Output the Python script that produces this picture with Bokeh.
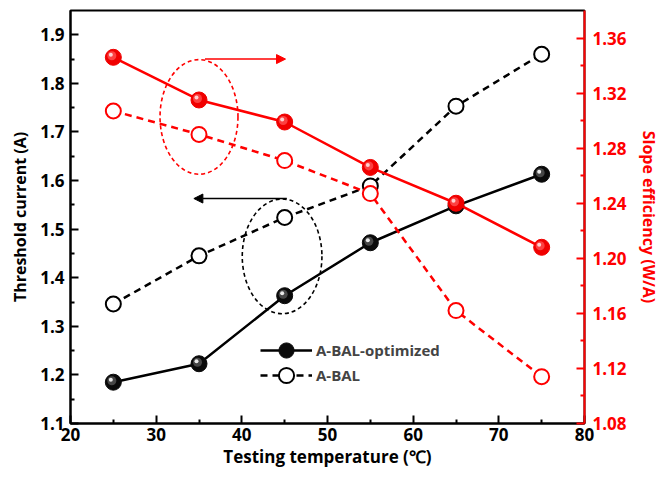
from bokeh.plotting import figure
from bokeh.models import (Range1d, LinearAxis, Arrow, NormalHead, Legend, LegendItem,
                          FixedTicker, NumeralTickFormatter)
from bokeh.embed import file_html
from bokeh.resources import INLINE

# Measured data
temperature = [25, 35, 45, 55, 65, 75]
ith_optimized = [1.185, 1.223, 1.363, 1.472, 1.548, 1.613]
ith_abal = [1.346, 1.445, 1.524, 1.589, 1.753, 1.860]
se_optimized = [1.346, 1.315, 1.299, 1.266, 1.240, 1.208]
se_abal = [1.307, 1.290, 1.271, 1.247, 1.162, 1.114]

x_ticks = [20, 30, 40, 50, 60, 70, 80]
left_ticks = [1.1, 1.2, 1.3, 1.4, 1.5, 1.6, 1.7, 1.8, 1.9]
right_ticks = [1.08, 1.12, 1.16, 1.20, 1.24, 1.28, 1.32, 1.36]

FONT = "Open Sans"
RED = "#ff0000"

W, H = 662, 477
ML, MR, MT, MB = 70, 77, 10, 54
X0, X1 = 20, 80
YL0, YL1 = 1.1, 1.95
YR0, YR1 = 1.08, 1.38

p = figure(width=W, height=H, x_range=Range1d(X0, X1), y_range=Range1d(YL0, YL1),
           output_backend="svg", toolbar_location=None,
           min_border_left=ML, min_border_right=MR, min_border_top=MT, min_border_bottom=MB)
p.extra_y_ranges = {"right": Range1d(YR0, YR1)}
p.xgrid.visible = False
p.ygrid.visible = False
p.outline_line_color = "black"
p.outline_line_width = 2
p.background_fill_color = "white"
p.border_fill_color = "white"

# pixel -> data unit conversions for marker highlights
fw, fh = W - ML - MR, H - MT - MB
px_x = (X1 - X0) / fw
px_yl = (YL1 - YL0) / fh
px_yr = (YR1 - YR0) / fh


def mids(t):
    return [(a + b) / 2 for a, b in zip(t[:-1], t[1:])]


def style_axis(ax, color):
    ax.axis_line_color = color
    ax.axis_line_width = 2
    ax.major_tick_line_color = color
    ax.minor_tick_line_color = color
    ax.major_tick_line_width = 2
    ax.minor_tick_line_width = 2
    ax.major_tick_in = 8
    ax.major_tick_out = 0
    ax.minor_tick_in = 4
    ax.minor_tick_out = 0
    ax.major_label_text_color = color
    ax.major_label_text_font = FONT
    ax.major_label_text_font_style = "bold"
    ax.major_label_text_font_size = "17px"
    ax.axis_label_text_color = color
    ax.axis_label_text_font = FONT
    ax.axis_label_text_font_style = "bold"
    ax.axis_label_text_font_size = "16px"


xa = p.xaxis[0]
xa.ticker = FixedTicker(ticks=x_ticks, minor_ticks=mids(x_ticks))
xa.axis_label = "Testing temperature (℃)"
style_axis(xa, "black")
xa.axis_label_text_font_size = "17px"
xa.major_label_standoff = 4
xa.axis_label_standoff = 1

ya = p.yaxis[0]
ya.ticker = FixedTicker(ticks=left_ticks, minor_ticks=mids(left_ticks))
ya.axis_label = "Threshold current (A)"
style_axis(ya, "black")
ya.major_label_standoff = 6
ya.axis_label_standoff = 6

ra = LinearAxis(y_range_name="right", axis_label="Slope efficiency (W/A)",
                ticker=FixedTicker(ticks=right_ticks, minor_ticks=mids(right_ticks)),
                formatter=NumeralTickFormatter(format="0.00"))
style_axis(ra, RED)
ra.major_label_standoff = 8
ra.axis_label_standoff = 8
p.add_layout(ra, "right")

# annotation ellipses and arrows
p.ellipse(x=[35.0], y=[1.731], width=9.1, height=0.236, fill_alpha=0,
          line_color=RED, line_width=1.6, line_dash="4 3")
p.ellipse(x=[44.7], y=[1.444], width=9.3, height=0.236, fill_alpha=0,
          line_color="black", line_width=1.6, line_dash="4 3")
p.add_layout(Arrow(end=NormalHead(size=9, fill_color=RED, line_color=RED),
                   x_start=35.7, y_start=1.85, x_end=45.1, y_end=1.85,
                   line_color=RED, line_width=1.5))
p.add_layout(Arrow(end=NormalHead(size=9, fill_color="black", line_color="black"),
                   x_start=45.25, y_start=1.563, x_end=34.4, y_end=1.563,
                   line_color="black", line_width=1.5))


def sphere(xs, ys, base, mid, hi, range_name, py):
    kw = {} if range_name is None else {"y_range_name": range_name}
    r = p.scatter(xs, ys, size=16, marker="circle", fill_color=base, line_color=base,
                  line_width=1, **kw)
    p.scatter([v - 1.5 * px_x for v in xs], [v + 1.5 * py for v in ys], size=9,
              marker="circle", fill_color=mid, line_alpha=0, fill_alpha=0.8, **kw)
    p.scatter([v - 2.5 * px_x for v in xs], [v + 2.5 * py for v in ys], size=4,
              marker="circle", fill_color=hi, line_alpha=0, **kw)
    return r


# threshold current (left axis)
l_opt = p.line(temperature, ith_optimized, line_color="black", line_width=2.5)
s_opt = sphere(temperature, ith_optimized, "#0a0a0a", "#555555", "#e8e8e8", None, px_yl)
l_abal = p.line(temperature, ith_abal, line_color="black", line_width=2.5, line_dash="7 5")
s_abal = p.scatter(temperature, ith_abal, size=15, marker="circle", fill_color="white",
                   line_color="black", line_width=2)

# slope efficiency (right axis)
p.line(temperature, se_optimized, line_color=RED, line_width=2.5, y_range_name="right")
sphere(temperature, se_optimized, "#f00000", "#ff5050", "#ffd0d0", "right", px_yr)
p.line(temperature, se_abal, line_color=RED, line_width=2.5, line_dash="7 5",
       y_range_name="right")
p.scatter(temperature, se_abal, size=15, marker="circle", fill_color="white",
          line_color=RED, line_width=2, y_range_name="right")

# one legend box per entry, so the rows can sit closer than the marker height
legend_style = dict(glyph_width=52, glyph_height=38, label_height=38,
                    label_standoff=4, padding=0, margin=0,
                    border_line_alpha=0, background_fill_alpha=0,
                    label_text_font=FONT, label_text_font_style="bold",
                    label_text_font_size="15px")
p.add_layout(Legend(items=[LegendItem(label="A-BAL-optimized", renderers=[l_opt, s_opt])],
                    location=(190, 54), **legend_style))
p.add_layout(Legend(items=[LegendItem(label="A-BAL", renderers=[l_abal, s_abal])],
                    location=(190, 29), **legend_style))

open("out.html", "w").write(file_html(p, INLINE))
